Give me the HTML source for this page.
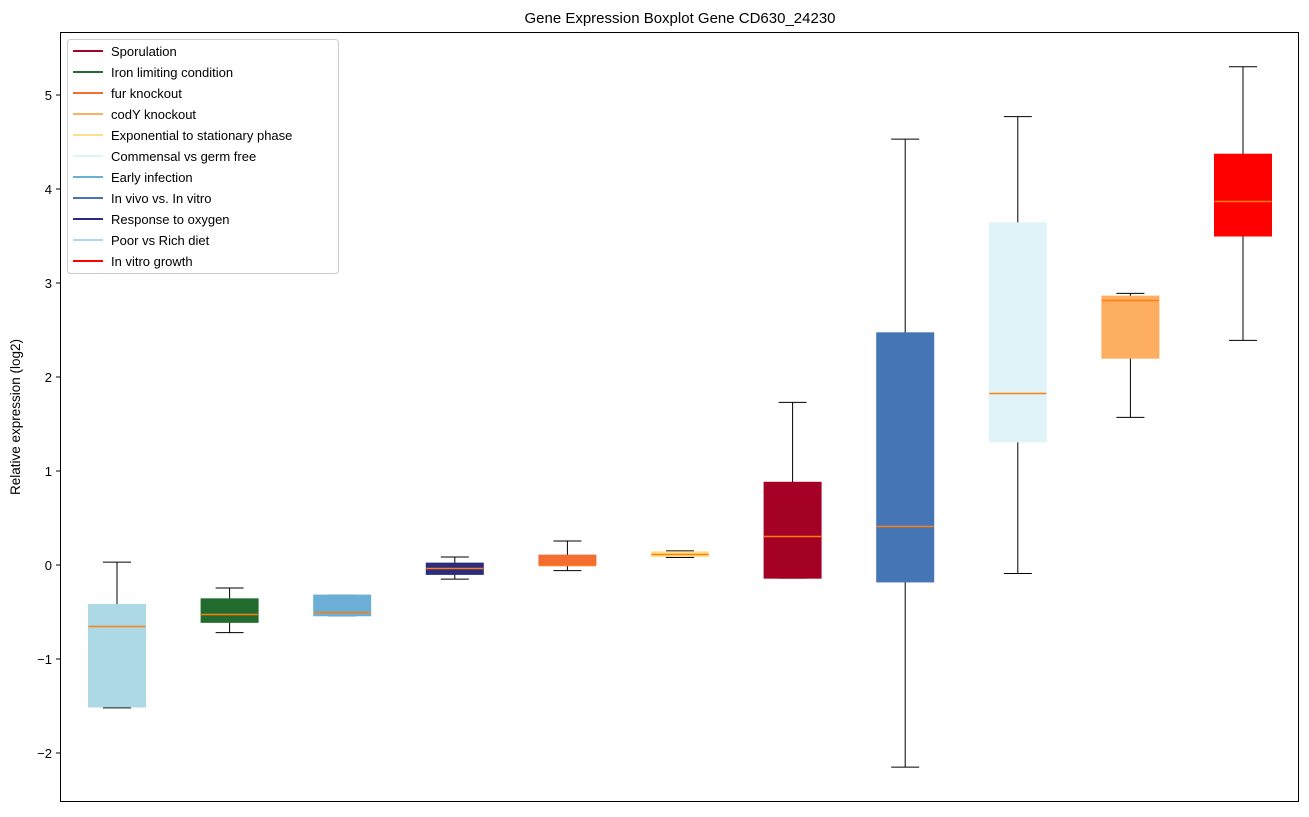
<!DOCTYPE html>
<html><head><meta charset="utf-8"><style>
body{margin:0;background:#fff;font-family:"Liberation Sans","DejaVu Sans",sans-serif}
svg text{font-family:"Liberation Sans","DejaVu Sans",sans-serif}
</style></head><body>
<svg id="chart" width="1309" height="812" xmlns="http://www.w3.org/2000/svg">
<text x="680" y="23" font-size="15" text-anchor="middle">Gene Expression Boxplot Gene CD630_24230</text>
<text transform="translate(20,417) rotate(-90)" font-size="13.5" text-anchor="middle">Relative expression (log2)</text>
<g id="marks"></g>
<g id="yticks"></g>
<rect x="60.5" y="32.5" width="1238" height="769" fill="none" stroke="#000" stroke-width="1"/>
<g id="legend"></g>
</svg>
<script>
const categories=["Poor vs Rich diet","Iron limiting condition","Early infection","Response to oxygen","fur knockout","Exponential to stationary phase","Sporulation","In vivo vs. In vitro","Commensal vs germ free","codY knockout","In vitro growth"];
const colors=["#add8e6","#226b2e","#6baed6","#2c2c7f","#f46d33","#ffe08a","#a50026","#4575b4","#e0f3f8","#fdae61","#ff0000"];
const whiskerLow=[-1.52,-0.72,-0.54,-0.15,-0.06,0.08,-0.14,-2.15,-0.09,1.57,2.39];
const q1=[-1.51,-0.61,-0.54,-0.10,0.00,0.09,-0.14,-0.18,1.31,2.20,3.50];
const medians=[-0.65,-0.52,-0.50,-0.03,0.00,0.12,0.31,0.42,1.83,2.82,3.87];
const q3=[-0.42,-0.36,-0.32,0.02,0.105,0.14,0.88,2.47,3.64,2.86,4.37];
const whiskerHigh=[0.03,-0.245,-0.32,0.085,0.255,0.15,1.73,4.53,4.77,2.89,5.30];
const yTicks=[-2,-1,0,1,2,3,4,5];
const legendLabels=["Sporulation","Iron limiting condition","fur knockout","codY knockout","Exponential to stationary phase","Commensal vs germ free","Early infection","In vivo vs. In vitro","Response to oxygen","Poor vs Rich diet","In vitro growth"];
const legendColors=["#a50026","#226b2e","#f46d33","#fdae61","#ffe08a","#e0f3f8","#6baed6","#4575b4","#2c2c7f","#add8e6","#ff0000"];

const NS="http://www.w3.org/2000/svg";
const y=v=>565-94*v;
const x=i=>117+i*112.6;
function mk(tag,at,parent){const e=document.createElementNS(NS,tag);for(const k in at)e.setAttribute(k,at[k]);parent.appendChild(e);return e;}
const marks=document.getElementById('marks');
categories.forEach((c,i)=>{
  const g=mk('g',{},marks);
  
  
  const cx=x(i),bw=57,cw=28;
  mk('line',{x1:cx,x2:cx,y1:y(whiskerHigh[i]),y2:y(q3[i]),stroke:'#000'},g);
  mk('line',{x1:cx,x2:cx,y1:y(q1[i]),y2:y(whiskerLow[i]),stroke:'#000'},g);
  mk('line',{x1:cx-cw/2,x2:cx+cw/2,y1:y(whiskerHigh[i]),y2:y(whiskerHigh[i]),stroke:'#000'},g);
  mk('line',{x1:cx-cw/2,x2:cx+cw/2,y1:y(whiskerLow[i]),y2:y(whiskerLow[i]),stroke:'#000'},g);
  const top=y(q3[i]),bot=y(q1[i]);
  mk('rect',{x:cx-bw/2,y:top,width:bw,height:Math.max(bot-top,1),fill:colors[i],stroke:colors[i]},g);
  const my=Math.round(y(medians[i]))+0.5;
  mk('line',{x1:cx-bw/2,x2:cx+bw/2,y1:my,y2:my,stroke:'#ff7f0e','stroke-width':1.5},g);
});
const yt=document.getElementById('yticks');
yTicks.forEach(t=>{
  const g=mk('g',{},yt);
  
  
  mk('line',{x1:56,x2:60,y1:y(t),y2:y(t),stroke:'#000'},g);
  const tx=mk('text',{x:52,y:y(t)+5,'font-size':13,'text-anchor':'end'},g);
  tx.textContent=t<0?'\u2212'+Math.abs(t):String(t);
});
const lg=document.getElementById('legend');
const box=mk('rect',{x:67.5,y:39.5,width:271,height:234,fill:'#fff','fill-opacity':0.8,stroke:'#ccc',rx:3},lg);


legendLabels.forEach((l,i)=>{
  const g=mk('g',{},lg);
  
  
  const yy=51+i*21;
  mk('line',{x1:73,x2:103,y1:yy,y2:yy,stroke:legendColors[i],'stroke-width':2},g);
  const t=mk('text',{x:111,y:yy+5,'font-size':13},g);
  t.textContent=l;
});
</script>
</body></html>
